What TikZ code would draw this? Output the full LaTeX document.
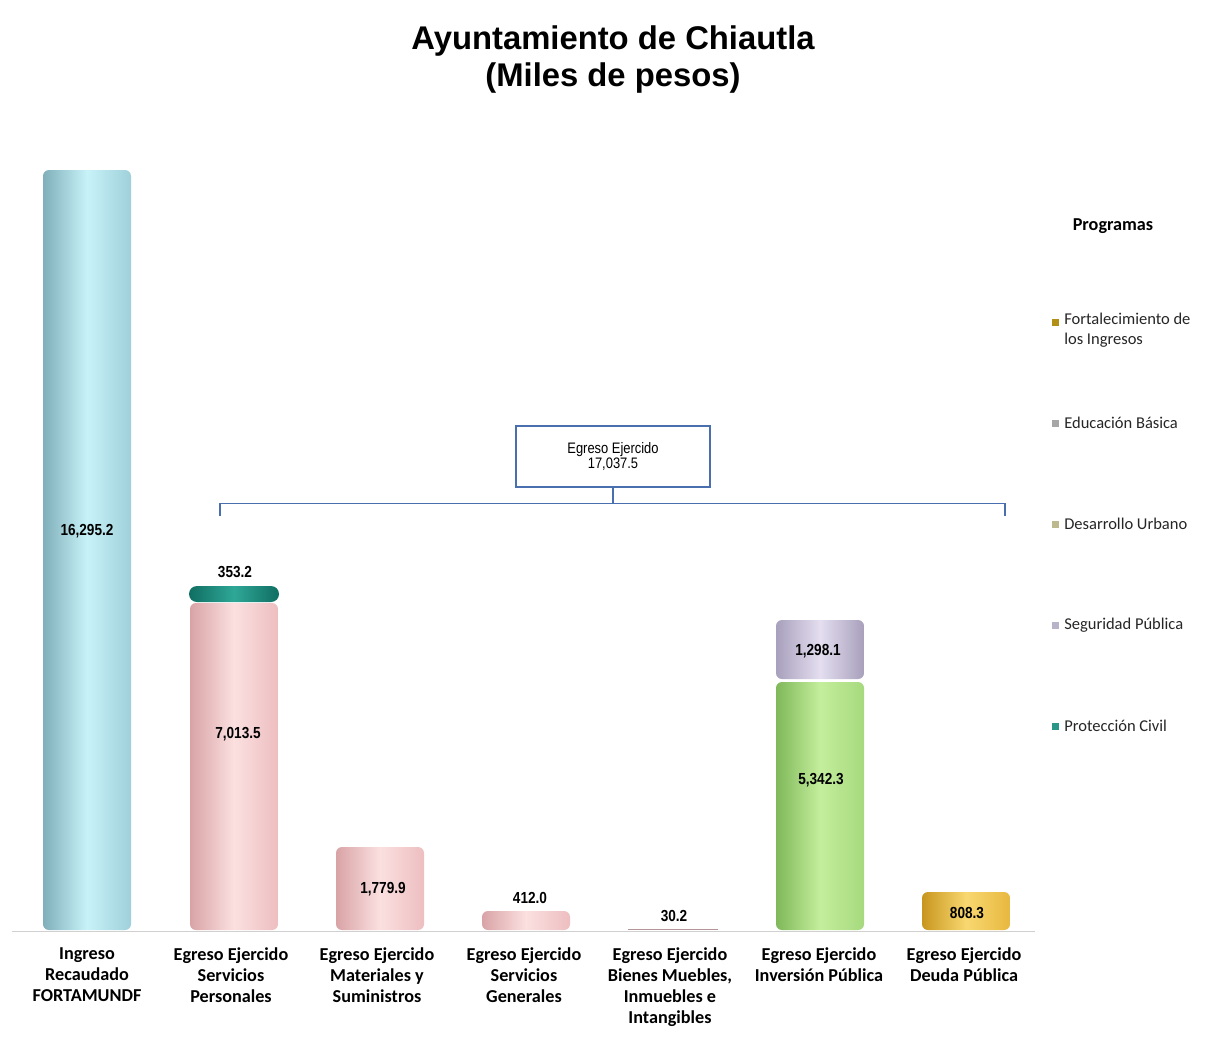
\documentclass[tikz,border=0pt]{standalone}
\usepackage{fontspec}
\setmainfont{Liberation Sans}
\newfontfamily\calibri{Carlito}
\newfontfamily\narrow[FakeStretch=0.85]{Liberation Sans}
\usepackage{xcolor}
\usetikzlibrary{positioning, calc}

\definecolor{cyanD}{HTML}{7FAFBA}
\definecolor{cyanL}{HTML}{C8F2F8}
\definecolor{cyanM}{HTML}{9FD0DA}
\definecolor{pinkD}{HTML}{D9A3A6}
\definecolor{pinkL}{HTML}{FBE0E0}
\definecolor{pinkM}{HTML}{EDBEC0}
\definecolor{tealD}{HTML}{0F6E62}
\definecolor{tealL}{HTML}{2FA797}
\definecolor{lavD}{HTML}{A8A0BC}
\definecolor{lavL}{HTML}{E4DEF0}
\definecolor{greenD}{HTML}{7FB85A}
\definecolor{greenL}{HTML}{C4EE9C}
\definecolor{greenM}{HTML}{A6D97E}
\definecolor{goldD}{HTML}{C8961E}
\definecolor{goldL}{HTML}{F8D870}
\definecolor{goldM}{HTML}{E8B840}
\definecolor{bracketblue}{HTML}{4A6FAF}
\definecolor{axisgray}{HTML}{D0D0D0}

\begin{document}
\begin{tikzpicture}[x=0.5pt, y=-0.5pt,
                % Define styles
                value/.style={font=\narrow\bfseries\fontsize{8}{9}\selectfont, inner sep=0pt},
                category/.style={font=\calibri\bfseries\fontsize{9.1}{10.6}\selectfont, align=center, anchor=north, inner sep=0pt},
                legendkey/.style={rectangle, minimum size=3.5pt, inner sep=0pt, fill=#1},
                legendtext/.style={font=\calibri\fontsize{8.25}{10}\selectfont, align=left, inner sep=0pt, text=black!85},
                bracket/.style={draw=bracketblue, line width=0.6pt},
                barcyan/.style={left color=cyanD, right color=cyanM, middle color=cyanL, rounded corners=3pt},
                barpink/.style={left color=pinkD, right color=pinkM, middle color=pinkL, rounded corners=3pt},
                barteal/.style={left color=tealD, right color=tealD, middle color=tealL, rounded corners=4pt},
                barlav/.style={left color=lavD, right color=lavD, middle color=lavL, rounded corners=3pt},
                bargreen/.style={left color=greenD, right color=greenM, middle color=greenL, rounded corners=3pt},
                bargold/.style={left color=goldD, right color=goldM, middle color=goldL, rounded corners=3pt}
            ]

            \useasboundingbox[fill=white] (0,0) rectangle (1211,1057);

            % --- Title ---
            \node [font=\bfseries\fontsize{16.4}{18.5}\selectfont, align=center] (title) at (613,60) {Ayuntamiento de Chiautla\\(Miles de pesos)};

            % --- Bars ---
            \draw [axisgray, line width=0.4pt] (12,931) -- (1035,931);
            \shade [barcyan] (43,170) rectangle (131,930);
            \shade [barpink] (190,603) rectangle (278,930);
            \shade [barteal] (189,586) rectangle (279,602);
            \shade [barpink] (336,847) rectangle (424,930);
            \shade [barpink] (482,911) rectangle (570,930);
            \fill [pinkD!60!gray] (628,928.5) rectangle (718,930);
            \shade [bargreen] (776,682) rectangle (864,930);
            \shade [barlav] (776,620) rectangle (864,679);
            \shade [bargold] (922,892) rectangle (1010,930);

            % --- Values ---
            \node [value] (vIngreso) at (87,531) {16,295.2};
            \node [value] (vProteccion) at (235,572) {353.2};
            \node [value] (vPersonales) at (238,734) {7,013.5};
            \node [value] (vMateriales) at (383,889) {1,779.9};
            \node [value] (vGenerales) at (530,898) {412.0};
            \node [value] (vBienes) at (674,916) {30.2};
            \node [value] (vSeguridad) at (818,651) {1,298.1};
            \node [value] (vInversion) at (821,780) {5,342.3};
            \node [value] (vDeuda) at (967,913) {808.3};

            % --- Categories ---
            \node [category] (catIngreso) at (87,947) {Ingreso\\Recaudado\\FORTAMUNDF};
            \node [category] (catPersonales) at (231,947) {Egreso Ejercido\\Servicios\\Personales};
            \node [category] (catMateriales) at (377,947) {Egreso Ejercido\\Materiales y\\Suministros};
            \node [category] (catGenerales) at (524,947) {Egreso Ejercido\\Servicios\\Generales};
            \node [category] (catBienes) at (670,947) {Egreso Ejercido\\Bienes Muebles,\\Inmuebles e\\Intangibles};
            \node [category] (catInversion) at (819,947) {Egreso Ejercido\\Inversión Pública};
            \node [category] (catDeuda) at (964,947) {Egreso Ejercido\\Deuda Pública};

            % --- Egreso bracket ---
            \node [draw=bracketblue, line width=0.6pt, minimum width=97pt, minimum height=30.5pt, align=center,
                   font=\narrow\fontsize{7.6}{7.8}\selectfont] (egreso) at (613,456.5) {Egreso Ejercido\\17,037.5};
            \coordinate (brMid) at ($(egreso.south)+(0,16)$);
            \coordinate (brL) at (220,516);
            \coordinate (brR) at (1005,516);
            \draw [bracket] (brL) -- (brL |- brMid) -- (brR |- brMid) -- (brR);
            \draw [bracket] (brMid) -- (egreso.south);

            % --- Legend ---
            \node [font=\calibri\bfseries\fontsize{9.1}{10}\selectfont] (legtitle) at (1113,226) {Programas};
            \node [legendkey=goldD!70!olive] (kFort) at (1055,322) {};
            \node [legendkey=gray!70] (kEduc) at (1055,423) {};
            \node [legendkey=gray!60!olive!60] (kDes) at (1055,524) {};
            \node [legendkey=lavD!80] (kSeg) at (1055,625) {};
            \node [legendkey=tealL!90!black] (kProt) at (1055,726) {};
            \node [legendtext, anchor=north west] (tFort) at ($(kFort.north east)+(5,-5)$) {Fortalecimiento de\\los Ingresos};
            \node [legendtext, right=2.5pt of kEduc] (tEduc) {Educación Básica};
            \node [legendtext, right=2.5pt of kDes] (tDes) {Desarrollo Urbano};
            \node [legendtext, right=2.5pt of kSeg] (tSeg) {Seguridad Pública};
            \node [legendtext, right=2.5pt of kProt] (tProt) {Protección Civil};

        \end{tikzpicture}
\end{document}
